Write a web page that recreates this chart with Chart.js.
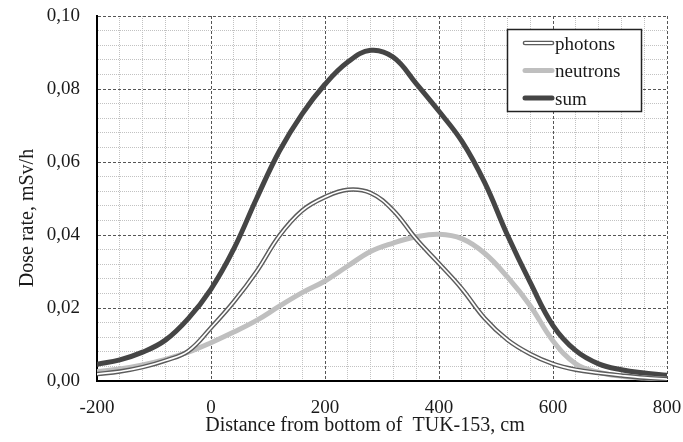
<!DOCTYPE html>
<html><head><meta charset="utf-8">
<script src="https://cdn.jsdelivr.net/npm/chart.js@4.4.0/dist/chart.umd.min.js"></script>
<style>html,body{margin:0;padding:0;background:#fff;}#wrap{width:683px;height:442px;}</style>
</head><body><div id="wrap"><canvas id="c" width="683" height="442"></canvas></div>
<script>
const distances = [-200,-160,-120,-80,-40,0,40,80,120,160,200,240,280,320,360,400,440,480,520,560,600,640,680,720,760,800];
const photons  = [0.0019,0.0026,0.0038,0.0056,0.0082,0.0146,0.0217,0.0300,0.0398,0.0467,0.0504,0.0524,0.0515,0.0467,0.0389,0.0322,0.0253,0.0172,0.0113,0.0074,0.0047,0.0031,0.0022,0.0015,0.0009,0.0005];
const neutrons = [0.0026,0.0033,0.0044,0.0059,0.0079,0.0105,0.0134,0.0166,0.0205,0.0242,0.0274,0.0315,0.0355,0.0378,0.0395,0.0402,0.0390,0.0350,0.0285,0.0206,0.0110,0.0047,0.0024,0.0013,0.0008,0.0005];
const sumDose  = [0.0046,0.0058,0.0079,0.0112,0.0171,0.0252,0.0362,0.0500,0.0630,0.0732,0.0813,0.0874,0.0906,0.0887,0.0815,0.0739,0.0657,0.0544,0.0400,0.0270,0.0152,0.0083,0.0047,0.0031,0.0022,0.0016];
const seriesNames = ['photons','neutrons','sum'];
const xMajorTicks = [-200,0,200,400,600,800];
const yMajorTickLabels = ['0,00','0,02','0,04','0,06','0,08','0,10'];
const xTitle = 'Distance from bottom of  TUK-153, cm';
const yTitle = 'Dose rate, mSv/h';

const yMajorVals = yMajorTickLabels.map(s => parseFloat(s.replace(',', '.')));
const xMinorStep = 40, yMinorStep = 0.004;
const xAllTicks = [];
for (let v = xMajorTicks[0]; v <= xMajorTicks[xMajorTicks.length-1] + 1e-9; v += xMinorStep) xAllTicks.push(v);
const yAllTicks = [];
const yMax = yMajorVals[yMajorVals.length-1];
for (let i = 0; i * yMinorStep <= yMax + 1e-9; i++) yAllTicks.push(Math.round(i * yMinorStep * 10000) / 10000);

const isMajorX = v => xMajorTicks.some(m => Math.abs(m - v) < 1e-6);
const isMajorY = v => yMajorVals.some(m => Math.abs(m - v) < 1e-9);
const yLabel = v => { const i = yMajorVals.findIndex(m => Math.abs(m - v) < 1e-9); return i >= 0 ? yMajorTickLabels[i] : ''; };

const pts = arr => distances.map((x, i) => ({x: x, y: arr[i]}));
const FONT = '"Liberation Serif", "Times New Roman", serif';
const MAJOR_COL = '#555555', MINOR_COL = '#c2c2c2';
const styles = {
  photons: {color: '#5c5c5c', width: 4.6},
  neutrons: {color: '#bfbfbf', width: 5},
  sum: {color: '#454545', width: 5}
};
const noPad = s => { s.paddingTop = 0; s.paddingBottom = 0; s.paddingLeft = 0; s.paddingRight = 0; };

const decor = {
  id: 'decor',
  afterDraw(chart) {
    const ctx = chart.ctx;
    ctx.save();
    ctx.fillStyle = '#1a1a1a';
    ctx.font = '20px ' + FONT;
    ctx.textAlign = 'center';
    ctx.textBaseline = 'alphabetic';
    ctx.fillText(xTitle, 365, 431);
    ctx.save();
    ctx.translate(33, 218);
    ctx.rotate(-Math.PI / 2);
    ctx.fillText(yTitle, 0, 0);
    ctx.restore();
    // legend
    const bx = 507.5, by = 29.5, bw = 134, bh = 82;
    ctx.fillStyle = '#fff';
    ctx.fillRect(bx, by, bw, bh);
    ctx.strokeStyle = '#222';
    ctx.lineWidth = 1.5;
    ctx.strokeRect(bx, by, bw, bh);
    const rows = [43, 70.5, 98];
    ctx.font = '19px ' + FONT;
    ctx.textAlign = 'left';
    seriesNames.forEach((name, i) => {
      const y = rows[i], st = styles[name];
      ctx.lineCap = 'round';
      ctx.strokeStyle = st.color;
      ctx.lineWidth = st.width;
      ctx.beginPath(); ctx.moveTo(525, y); ctx.lineTo(552, y); ctx.stroke();
      if (name === 'photons') {
        ctx.strokeStyle = '#fff'; ctx.lineWidth = 1.8;
        ctx.beginPath(); ctx.moveTo(525, y); ctx.lineTo(552, y); ctx.stroke();
      }
      ctx.fillStyle = '#1a1a1a';
      ctx.fillText(name, 555, y + 6.5);
    });
    ctx.restore();
  }
};

new Chart(document.getElementById('c'), {
  type: 'line',
  data: {
    datasets: [
      {label: seriesNames[0], data: pts(photons), borderColor: styles.photons.color, borderWidth: styles.photons.width, order: 1},
      {label: seriesNames[0] + '-inner', data: pts(photons), borderColor: '#ffffff', borderWidth: 1.7, order: 0},
      {label: seriesNames[1], data: pts(neutrons), borderColor: styles.neutrons.color, borderWidth: styles.neutrons.width, order: 2},
      {label: seriesNames[2], data: pts(sumDose), borderColor: styles.sum.color, borderWidth: styles.sum.width, order: 3}
    ]
  },
  options: {
    responsive: false,
    animation: false,
    devicePixelRatio: 1,
    layout: {padding: {top: 16, right: 16, left: 0, bottom: 0}},
    elements: {
      point: {radius: 0},
      line: {tension: 0.4, fill: false, borderCapStyle: 'round', borderJoinStyle: 'round'}
    },
    plugins: {legend: {display: false}, tooltip: {enabled: false}, title: {display: false}},
    scales: {
      x: {
        type: 'linear', min: xMajorTicks[0], max: xMajorTicks[xMajorTicks.length-1],
        afterBuildTicks: s => { s.ticks = xAllTicks.map(v => ({value: v})); },
        afterFit: s => { s.height = 61; noPad(s); },
        ticks: {autoSkip: false, maxRotation: 0, minRotation: 0, padding: 16, color: '#1a1a1a',
          font: {family: FONT, size: 19}, callback: v => isMajorX(v) ? String(v) : ''},
        grid: {drawTicks: false, lineWidth: 1, color: c => (c.tick && isMajorX(c.tick.value)) ? MAJOR_COL : MINOR_COL},
        border: {display: true, color: '#000', width: 2,
          dash: c => c.tick ? (isMajorX(c.tick.value) ? [3, 2] : [1, 1]) : []}
      },
      y: {
        type: 'linear', min: 0, max: yMax,
        afterBuildTicks: s => { s.ticks = yAllTicks.map(v => ({value: v})); },
        afterFit: s => { s.width = 97; noPad(s); },
        ticks: {autoSkip: false, padding: 17, color: '#1a1a1a',
          font: {family: FONT, size: 19}, callback: v => yLabel(v)},
        grid: {drawTicks: false, lineWidth: 1, color: c => (c.tick && isMajorY(c.tick.value)) ? MAJOR_COL : MINOR_COL},
        border: {display: true, color: '#000', width: 2,
          dash: c => c.tick ? (isMajorY(c.tick.value) ? [3, 2] : [1, 1]) : []}
      }
    }
  },
  plugins: [decor]
});
</script>
</body></html>
